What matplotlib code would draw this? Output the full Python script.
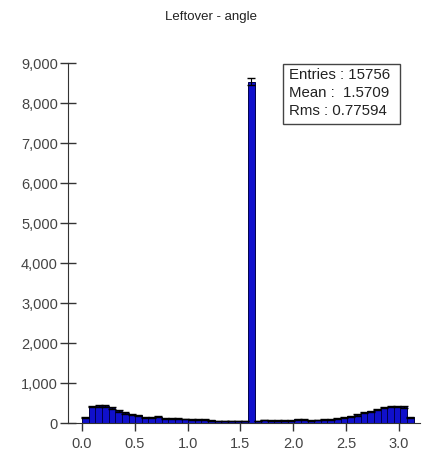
import numpy as np
import matplotlib
matplotlib.use("Agg")
import matplotlib.pyplot as plt
from matplotlib.ticker import FuncFormatter
from matplotlib.patches import Rectangle

plt.rcParams['font.family'] = ['Liberation Sans', 'DejaVu Sans']

# 50 bins over [0, pi]
n_bins = 50
counts = [150, 410, 430, 430, 370, 300, 250, 215, 190, 150,
          140, 155, 120, 110, 110, 100, 85, 80, 80, 65,
          55, 55, 50, 50, 50, 8540, 55, 75, 70, 60,
          65, 70, 90, 85, 70, 75, 90, 90, 120, 135,
          175, 200, 260, 290, 340, 390, 410, 410, 400, 150]
title = "Leftover - angle"
stats = ["Entries : 15756", "Mean :  1.5709", "Rms : 0.77594"]
xticks = [0.0, 0.5, 1.0, 1.5, 2.0, 2.5, 3.0]
yticks = [0, 1000, 2000, 3000, 4000, 5000, 6000, 7000, 8000, 9000]

edges = np.linspace(0, np.pi, n_bins + 1)
counts = np.array(counts, dtype=float)

fig = plt.figure(figsize=(4.22, 4.51), dpi=100)
ax = fig.add_axes([0.162, 0.062, 0.833, 0.798])

ax.bar(edges[:-1], counts, width=np.diff(edges), align='edge',
       color='#1010cc', edgecolor='#00004a', linewidth=0.7, zorder=2)
centers = 0.5 * (edges[:-1] + edges[1:])
ax.errorbar(centers, counts, yerr=np.sqrt(counts), fmt='none',
            ecolor='black', elinewidth=0.8, capsize=3, capthick=1, zorder=3)

ax.set_xlim(-0.13, 3.2)
ax.set_ylim(0, 9000)
ax.set_xticks(xticks)
ax.set_xticklabels([f"{v:.1f}" for v in xticks])
ax.set_yticks(yticks)
ax.yaxis.set_major_formatter(FuncFormatter(lambda v, p: f"{v:,.0f}"))

for s in ['top', 'right']:
    ax.spines[s].set_visible(False)
ax.spines['left'].set_color('#333333')
ax.spines['bottom'].set_color('#333333')
ax.tick_params(axis='y', direction='inout', length=11, width=1,
               colors='#333333', labelsize=10.5, pad=2)
ax.tick_params(axis='x', direction='out', length=6, width=1,
               colors='#333333', labelsize=10.5, pad=4)
for lbl in ax.get_xticklabels() + ax.get_yticklabels():
    lbl.set_color('#444444')

fig.text(0.5, 0.962, title, ha='center', va='center', fontsize=9.5, color='#222222')

# statistics box
ax.add_patch(Rectangle((0.610, 0.831), 0.333, 0.166, transform=ax.transAxes,
                       facecolor='white', edgecolor='#444444', linewidth=1,
                       zorder=5, clip_on=False))
for i, line in enumerate(stats):
    ax.text(0.627, 0.967 - i * 0.05, line, transform=ax.transAxes,
            ha='left', va='center', fontsize=10.8, color='#222222', zorder=6)

fig.savefig("out.png", dpi=100)
